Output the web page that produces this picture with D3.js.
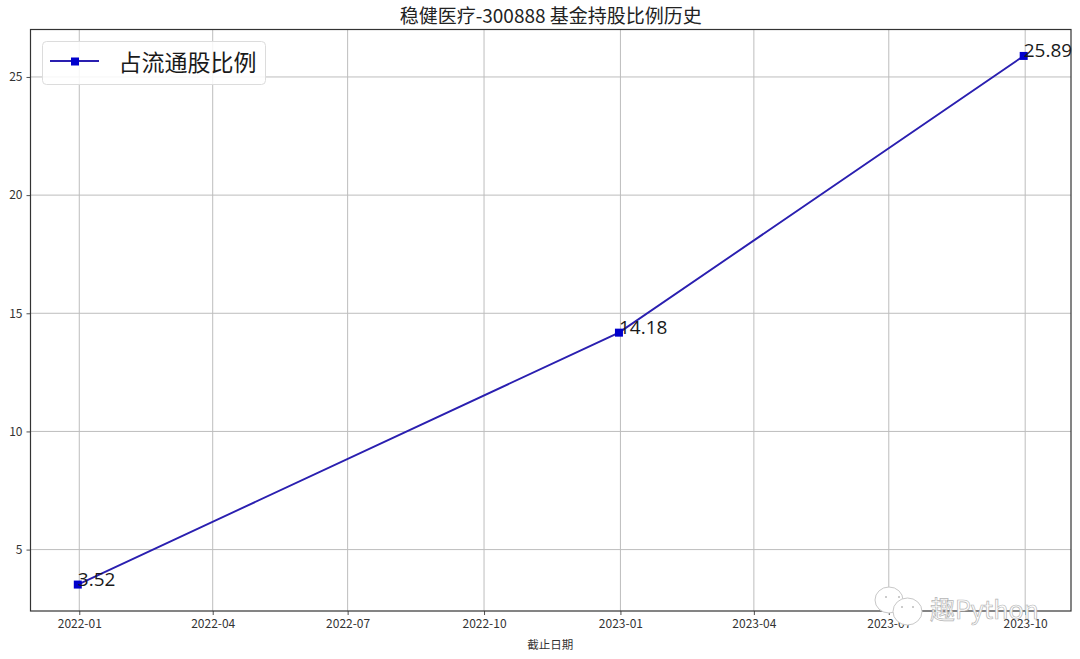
<!DOCTYPE html>
<html><head><meta charset="utf-8">
<script src="https://cdn.jsdelivr.net/npm/d3@7/dist/d3.min.js"></script>
<style>
html,body{margin:0;padding:0;background:#fff}
svg{display:block}
text{font-family:"Noto Sans CJK SC","Noto Sans",sans-serif}
</style></head><body><div id="chart"></div>
<script>
const chartTitle = "稳健医疗-300888 基金持股比例历史";
const xLabel = "截止日期";
const seriesName = "占流通股比例";
const dates = ["2021-12-31", "2022-12-31", "2023-09-30"];
const values = [3.52, 14.18, 25.89];
const xTicks = ["2022-01","2022-04","2022-07","2022-10","2023-01","2023-04","2023-07","2023-10"];
const yTicks = [5, 10, 15, 20, 25];

const W = 1080, H = 659;
const m = {left: 30.5, right: 1071, top: 29.5, bottom: 611};
const parseDay = d3.utcParse("%Y-%m-%d"), parseMonth = d3.utcParse("%Y-%m");
const pts = dates.map((d, i) => ({date: parseDay(d), value: values[i]}));

const xExt = d3.extent(pts, d => +d.date), yExt = d3.extent(values);
const xPad = (xExt[1] - xExt[0]) * 0.05, yPad = (yExt[1] - yExt[0]) * 0.05;
const x = d3.scaleUtc().domain([xExt[0] - xPad, xExt[1] + xPad]).range([m.left, m.right]);
const y = d3.scaleLinear().domain([yExt[0] - yPad, yExt[1] + yPad]).range([m.bottom, m.top]);

const svg = d3.select("#chart").append("svg").attr("width", W).attr("height", H);
svg.append("rect").attr("width", W).attr("height", H).attr("fill", "#fff");

// grid
const tickDates = xTicks.map(parseMonth);
svg.append("g").selectAll("line").data(tickDates).join("line")
  .attr("x1", d => x(d)).attr("x2", d => x(d)).attr("y1", m.top).attr("y2", m.bottom)
  .attr("stroke", "#bdbdbd").attr("stroke-width", 1);
svg.append("g").selectAll("line").data(yTicks).join("line")
  .attr("x1", m.left).attr("x2", m.right).attr("y1", d => y(d)).attr("y2", d => y(d))
  .attr("stroke", "#bdbdbd").attr("stroke-width", 1);

// axes
const xAxis = svg.append("g").attr("transform", `translate(0,${m.bottom})`)
  .call(d3.axisBottom(x).tickValues(tickDates).tickFormat(d3.utcFormat("%Y-%m")).tickSize(4).tickPadding(4));
const yAxis = svg.append("g").attr("transform", `translate(${m.left},0)`)
  .call(d3.axisLeft(y).tickValues(yTicks).tickSize(4).tickPadding(4));
[xAxis, yAxis].forEach(g => {
  g.select(".domain").remove();
  g.selectAll("text").attr("font-size", 12).attr("fill", "#333");
  g.selectAll("line").attr("stroke", "#222").attr("stroke-width", 0.8);
});
svg.append("rect").attr("x", m.left).attr("y", m.top)
  .attr("width", m.right - m.left).attr("height", m.bottom - m.top)
  .attr("fill", "none").attr("stroke", "#333").attr("stroke-width", 1.2);

// series
svg.append("path").datum(pts)
  .attr("d", d3.line().x(d => x(d.date)).y(d => y(d.value)))
  .attr("fill", "none").attr("stroke", "#2a1fb0").attr("stroke-width", 1.9);
const ms = 8;
svg.append("g").selectAll("rect").data(pts).join("rect")
  .attr("x", d => x(d.date) - ms / 2).attr("y", d => y(d.value) - ms / 2)
  .attr("width", ms).attr("height", ms).attr("fill", "#0000cc");
svg.append("g").selectAll("text").data(pts).join("text")
  .attr("x", d => x(d.date)).attr("y", d => y(d.value) + 1)
  .attr("font-size", 19).attr("fill", "#1a1a1a")
  .attr("style", "font-family:'Open Sans',sans-serif")
  .text(d => d.value.toFixed(2));

// title and x label
svg.append("text").attr("x", (m.left + m.right) / 2).attr("y", 23)
  .attr("text-anchor", "middle").attr("font-size", 19).attr("fill", "#222").text(chartTitle);
svg.append("text").attr("x", (m.left + m.right) / 2 - 0.5).attr("y", 649)
  .attr("text-anchor", "middle").attr("font-size", 11.5).attr("fill", "#333").text(xLabel);

// legend
const lg = svg.append("g");
lg.append("rect").attr("x", 42.5).attr("y", 41.5).attr("width", 223).attr("height", 43).attr("rx", 4)
  .attr("fill", "#fff").attr("fill-opacity", 0.85).attr("stroke", "#dcdcdc");
lg.append("line").attr("x1", 50).attr("x2", 99).attr("y1", 61).attr("y2", 61)
  .attr("stroke", "#2a1fb0").attr("stroke-width", 1.9);
lg.append("rect").attr("x", 71).attr("y", 57.5).attr("width", ms).attr("height", ms).attr("fill", "#0000cc");
lg.append("text").attr("x", 118.5).attr("y", 71).attr("font-size", 23).attr("fill", "#1a1a1a").text(seriesName);

// watermark
const wm = svg.append("g").attr("fill", "#fff").attr("stroke", "#c8c8c8").attr("stroke-width", 1);
wm.append("ellipse").attr("cx", 889).attr("cy", 600).attr("rx", 14).attr("ry", 13);
wm.append("ellipse").attr("cx", 907.5).attr("cy", 611.5).attr("rx", 14.5).attr("ry", 13.5);
[[886,597],[899,597],[902,607],[913,607]].forEach(p =>
  wm.append("circle").attr("cx", p[0]).attr("cy", p[1]).attr("r", 1).attr("fill", "#bbb").attr("stroke", "none"));
wm.append("text").attr("x", 930).attr("y", 619).attr("font-size", 25)
  .attr("fill", "#fff").attr("stroke", "#b5b5b5").attr("stroke-width", 0.7)
  .text("趣Python");
</script></body></html>
